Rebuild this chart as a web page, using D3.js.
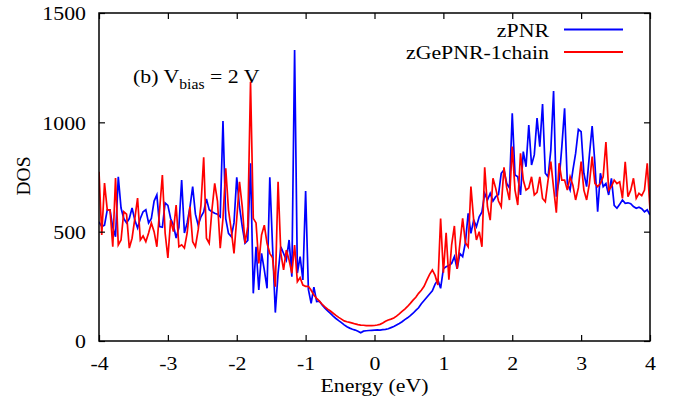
<!DOCTYPE html>
<html><head><meta charset="utf-8">
<script src="https://cdn.jsdelivr.net/npm/d3@7/dist/d3.min.js"></script>
<style>
body{margin:0;background:#fff;}
text{font-family:"Liberation Serif","Times New Roman",serif;fill:#000;}
</style>
</head><body>
<script>
// ---- data ----
const xTicks = [-4, -3, -2, -1, 0, 1, 2, 3, 4];
const yTicks = [0, 500, 1000, 1500];
const seriesNames = ["zPNR", "zGePNR-1chain"];
const seriesColors = ["#0000ff", "#ff0000"];
const xLabel = "Energy (eV)";
const yLabel = "DOS";
const eStart = -4, eStep = 0.04;

const zPNR = [
 545,523,530,600,600,520,477,751,608,560,540,560,608,553,517,560,591,600,540,560,640,668,523,520,631,
 620,560,530,471,520,736,494,540,610,706,580,530,568,590,650,600,591,584,580,568,1006,560,492,477,540,
 749,614,523,447,460,813,218,431,233,401,325,241,749,431,130,310,431,400,370,462,294,1331,311,386,279,
 686,236,172,246,180,182,165,150,138,126,114,103,93,84,74,65,59,54,50,45,38,45,47,48,49,
 50,51,50,52,53,56,61,66,73,80,88,98,106,116,127,140,152,170,185,200,215,230,260,279,241,
 330,340,345,355,386,330,400,386,450,584,492,553,523,568,590,675,645,675,640,660,670,767,782,720,700,
 1041,759,751,668,866,797,988,805,851,1019,889,1084,767,751,873,1143,660,736,889,1064,721,690,780,858,968,
 957,767,706,850,983,813,591,767,706,720,668,744,620,607,625,645,630,632,628,615,607,612,605,591,600,576
];
const zGePNR = [
 774,485,722,600,600,431,745,439,462,591,580,425,470,560,654,462,480,454,494,540,500,431,600,759,494,
 380,553,500,622,431,440,425,494,614,454,431,508,620,840,470,447,600,721,640,424,560,790,600,508,401,
 560,728,614,447,523,1186,561,540,355,485,530,447,401,380,248,728,401,325,416,370,310,439,271,290,256,
 250,250,232,210,195,182,168,156,146,137,127,117,108,100,92,88,85,82,78,75,73,72,70,70,70,
 71,73,76,82,90,96,100,105,114,124,135,146,158,172,187,200,218,232,250,278,305,325,300,256,560,
 312,495,280,440,526,330,445,561,450,431,706,553,462,500,431,794,614,553,744,698,640,614,794,700,645,
 889,690,622,858,736,690,700,751,668,680,751,652,637,736,820,700,587,813,736,736,690,751,713,645,700,
 820,690,645,720,843,721,706,720,751,910,690,706,736,720,728,652,820,660,690,744,652,675,665,690,813,600
];
const energy = zPNR.map((_, i) => +(eStart + i * eStep).toFixed(2));
const series = [zPNR, zGePNR];

// ---- layout ----
const W = 677, H = 412;
const L = 99, R = 650, T = 13, B = 341;
const SX = 1.12; // horizontal stretch of lettering
const FS = 19.5;

const svg = d3.select("body").append("svg").attr("width", W).attr("height", H);
const x = d3.scaleLinear().domain([-4, 4]).range([L, R]);
const y = d3.scaleLinear().domain([0, 1500]).range([B, T]);

svg.append("clipPath").attr("id", "clip").append("rect")
  .attr("x", L).attr("y", T).attr("width", R - L).attr("height", B - T);

const line = d3.line().x(d => x(d[0])).y(d => y(d[1]));
series.forEach((s, k) => {
  svg.append("path")
    .datum(energy.map((e, i) => [e, s[i]]))
    .attr("clip-path", "url(#clip)")
    .attr("fill", "none")
    .attr("stroke", seriesColors[k])
    .attr("stroke-width", 1.7)
    .attr("d", line);
});

const fmt = d => String(d);
function styleAxis(g) {
  g.select(".domain").remove();
  g.selectAll(".tick line").attr("stroke", "#000").attr("stroke-width", 1.2);
  g.selectAll("text").attr("font-size", FS).attr("fill", "#000");
}
const gB = svg.append("g").attr("transform", `translate(0,${B})`)
  .call(d3.axisBottom(x).tickValues(xTicks).tickSize(-6).tickSizeOuter(0).tickFormat(fmt));
styleAxis(gB);
gB.selectAll("text").attr("y", 29).attr("dy", 0).attr("transform", `scale(${SX},1)`);

const gT = svg.append("g").attr("transform", `translate(0,${T})`)
  .call(d3.axisTop(x).tickValues(xTicks).tickSize(-6).tickSizeOuter(0).tickFormat(""));
styleAxis(gT);

const gL = svg.append("g").attr("transform", `translate(${L},0)`)
  .call(d3.axisLeft(y).tickValues(yTicks).tickSize(-6).tickSizeOuter(0).tickFormat(fmt));
styleAxis(gL);
gL.selectAll("text").attr("x", -13 / SX).attr("dy", "0.35em").attr("transform", `scale(${SX},1)`);

const gR = svg.append("g").attr("transform", `translate(${R},0)`)
  .call(d3.axisRight(y).tickValues(yTicks).tickSize(-6).tickSizeOuter(0).tickFormat(""));
styleAxis(gR);

svg.append("rect").attr("x", L).attr("y", T).attr("width", R - L).attr("height", B - T)
  .attr("fill", "none").attr("stroke", "#000").attr("stroke-width", 1.5);

svg.append("text").attr("transform", `translate(${(L + R) / 2},392) scale(${SX},1)`)
  .attr("text-anchor", "middle").attr("font-size", FS).text(xLabel);
svg.append("text").attr("transform", `translate(30,176) rotate(-90)`)
  .attr("text-anchor", "middle").attr("font-size", FS).text(yLabel);

const legY = [29.5, 52];
seriesNames.forEach((n, k) => {
  svg.append("text").attr("transform", `translate(549,${legY[k] + 7}) scale(${SX},1)`)
    .attr("text-anchor", "end").attr("font-size", FS).text(n);
  svg.append("line").attr("x1", 564).attr("x2", 623).attr("y1", legY[k]).attr("y2", legY[k])
    .attr("stroke", seriesColors[k]).attr("stroke-width", 1.8);
});

const ann = svg.append("text").attr("transform", `translate(133,83) scale(${SX},1)`)
  .attr("font-size", FS);
ann.append("tspan").text("(b) V");
ann.append("tspan").attr("dy", 6).attr("font-size", 14).text("bias");
ann.append("tspan").attr("dy", -6).text(" = 2 V");
</script>
</body></html>
